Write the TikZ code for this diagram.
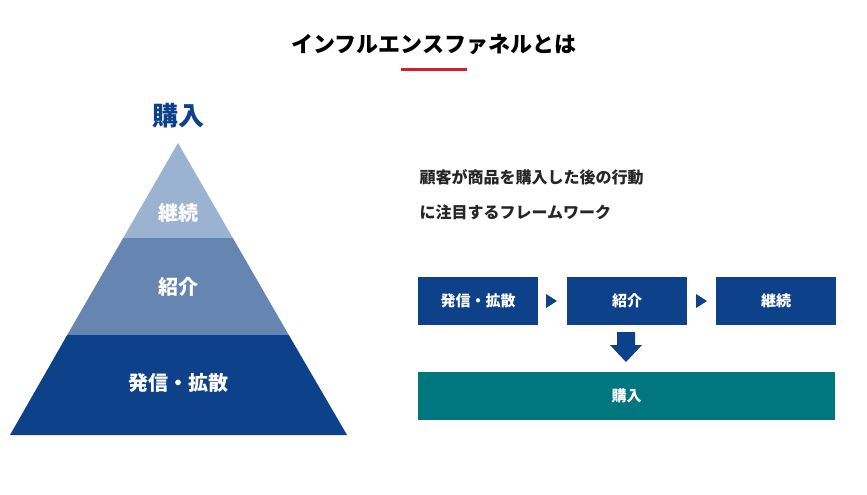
\documentclass[tikz,border=0pt]{standalone}
\usepackage{fontspec}
\setmainfont{Noto Sans CJK JP}
\usetikzlibrary{shapes.arrows}
\definecolor{navy}{HTML}{0D4189}
\definecolor{midb}{HTML}{6685B0}
\definecolor{lightb}{HTML}{9AB3D0}
\definecolor{teal2}{HTML}{00777F}
\definecolor{red2}{HTML}{D0202A}
\tikzset{x=1pt,y=-1pt,
 lab/.style={text=white,font=\bfseries\fontsize{20}{24}\selectfont},
 boxx/.style={fill=navy,text=white,font=\bfseries\fontsize{15}{18}\selectfont,minimum width=120pt,minimum height=48pt,inner sep=0pt},
 tri/.style={fill=navy}}
\begin{document}
\begin{tikzpicture}
\useasboundingbox (0,0) rectangle (867,495);
\node (title) at (434,45) {\bfseries\fontsize{22}{26}\selectfont インフルエンスファネルとは};
\draw[red2,line width=3pt] (401,70) -- (467,70);
\node[text=navy,font=\bfseries\fontsize{26}{30}\selectfont] (top) at (178,116) {購入};
% pyramid
\fill[lightb] (178,143) -- (123.2,238) -- (232.8,238) -- cycle;
\fill[midb] (123.2,238) -- (232.8,238) -- (288.8,335) -- (67.2,335) -- cycle;
\fill[navy] (67.2,335) -- (288.8,335) -- (347,435) -- (10,435) -- cycle;
\node[lab] (l1) at (178,213) {継続};
\node[lab] (l2) at (178,287) {紹介};
\node[lab] (l3) at (178,383) {発信・拡散};
\node[anchor=west,font=\bfseries\fontsize{16}{20}\selectfont,text=black!85] (t1) at (416,177) {顧客が商品を購入した後の行動};
\node[anchor=west,font=\bfseries\fontsize{16}{20}\selectfont,text=black!85] (t2) at (416,212) {に注目するフレームワーク};
\node[boxx] (b1) at (478,301) {発信・拡散};
\node[boxx] (b2) at (627,301) {紹介};
\node[boxx] (b3) at (776,301) {継続};
\fill[navy] (546,294) -- (557,301) -- (546,308) -- cycle;
\fill[navy] (696,294) -- (707,301) -- (696,308) -- cycle;
\node[boxx,fill=teal2,minimum width=417pt] (b4) at (626.5,396) {購入};
\fill[navy] (617,332) -- (635,332) -- (635,345) -- (642,345) -- (626,362) -- (610,345) -- (617,345) -- cycle;
\end{tikzpicture}
\end{document}
